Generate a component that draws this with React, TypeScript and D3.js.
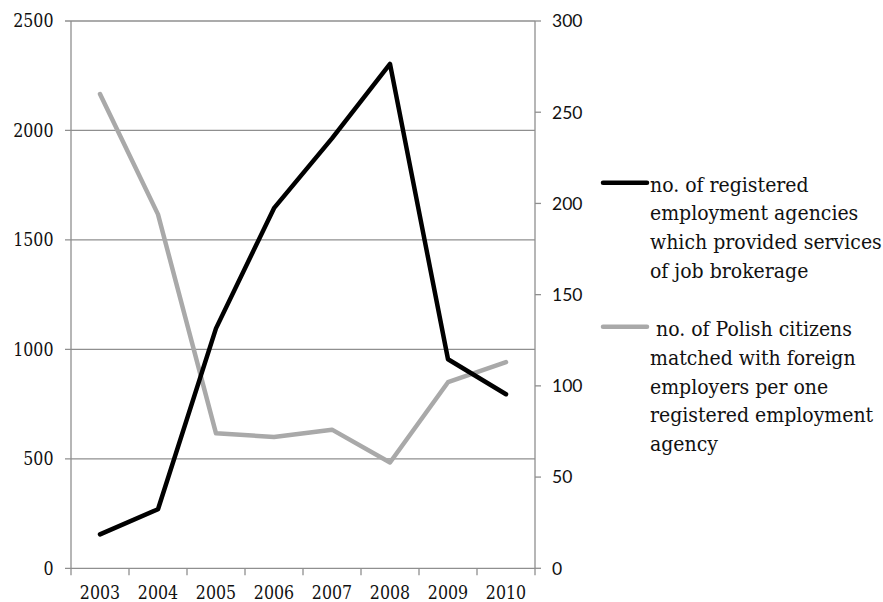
import React from "react";
import * as d3 from "d3";

const years = ["2003", "2004", "2005", "2006", "2007", "2008", "2009", "2010"];
const agencies = [155, 270, 1096, 1645, 1964, 2304, 955, 795];
const citizensPerAgency = [260, 194, 74, 72, 76, 58, 102, 113];
const leftTicks = [0, 500, 1000, 1500, 2000, 2500];
const rightTicks = [0, 50, 100, 150, 200, 250, 300];
const legend1 = ["no. of registered", "employment agencies", "which provided services", "of job brokerage"];
const legend2 = [" no. of Polish citizens", "matched with foreign", "employers per one", "registered employment", "agency"];

const W = 883, H = 602;
const L = 71, R = 535, T = 21, B = 568.3;
const GRID = "#8f8f8f";

export default function App() {
  const x = d3.scaleBand<string>().domain(years).range([L, R]);
  const yL = d3.scaleLinear().domain([0, 2500]).range([B, T]);
  const yR = d3.scaleLinear().domain([0, 300]).range([B, T]);
  const cx = (y: string) => (x(y) as number) + x.bandwidth() / 2;

  const lineL = d3.line<number>().x((_, i) => cx(years[i])).y((d) => yL(d));
  const lineR = d3.line<number>().x((_, i) => cx(years[i])).y((d) => yR(d));

  const sans = "Lato, \"Open Sans\", sans-serif";
  const serif: React.CSSProperties = { fontFamily: "\"DejaVu Serif\", serif", fontStretch: "condensed" };

  return (
    <svg width={W} height={H} style={{ position: "absolute", left: 0, top: 0, background: "#fff" }}>
      {leftTicks.map((t) => (
        <line key={"g" + t} x1={L - 6} x2={R} y1={yL(t)} y2={yL(t)} stroke={GRID} strokeWidth={1.3} />
      ))}
      <line x1={L} x2={L} y1={T} y2={B} stroke={GRID} strokeWidth={1.3} />
      {leftTicks.map((t) => (
        <text key={"lt" + t} x={53.5} y={yL(t) + 6.2} textAnchor="end" style={serif} fontSize={17.6} fill="#111">
          {t}
        </text>
      ))}
      <line x1={R} x2={R} y1={T} y2={B} stroke={GRID} strokeWidth={1.3} />
      {rightTicks.map((t) => (
        <g key={"rt" + t}>
          <line x1={R} x2={R + 6} y1={yR(t)} y2={yR(t)} stroke={GRID} strokeWidth={1.3} />
          <text x={552} y={yR(t) + 6.3} textAnchor="start" fontFamily={sans} fontSize={17.5} fill="#111">
            {t}
          </text>
        </g>
      ))}
      {[...years.map((y) => x(y) as number), R].map((v, i) => (
        <line key={"bt" + i} x1={v} x2={v} y1={B} y2={B + 7} stroke={GRID} strokeWidth={1.3} />
      ))}
      {years.map((y) => (
        <text key={"yl" + y} x={cx(y)} y={599} textAnchor="middle" style={serif} fontSize={17.6} fill="#111">
          {y}
        </text>
      ))}
      <path d={lineR(citizensPerAgency) || ""} fill="none" stroke="#a9a9a9" strokeWidth={4.5} strokeLinejoin="round" strokeLinecap="round" />
      <path d={lineL(agencies) || ""} fill="none" stroke="#000" strokeWidth={4.5} strokeLinejoin="round" strokeLinecap="round" />
      <line x1={603} x2={647} y1={182.7} y2={182.7} stroke="#000" strokeWidth={4.5} strokeLinecap="round" />
      <text style={serif} fontSize={21} fill="#111">
        {legend1.map((s, i) => (
          <tspan key={i} x={650} y={191.7 + i * 28.6}>{s}</tspan>
        ))}
      </text>
      <line x1={603} x2={647} y1={326.7} y2={326.7} stroke="#a9a9a9" strokeWidth={4.5} strokeLinecap="round" />
      <text style={{ ...serif, whiteSpace: "pre" }} fontSize={21} fill="#111">
        {legend2.map((s, i) => (
          <tspan key={i} x={650} y={336.3 + i * 28.6}>{s}</tspan>
        ))}
      </text>
    </svg>
  );
}
